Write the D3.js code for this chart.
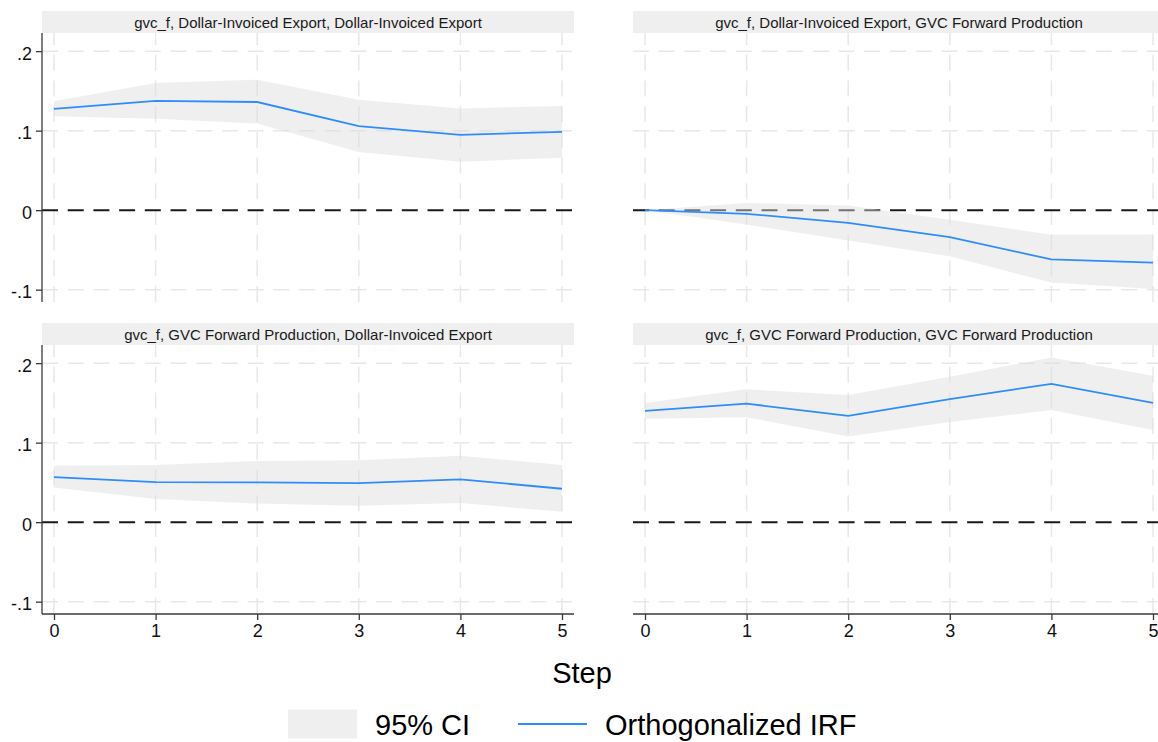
<!DOCTYPE html>
<html>
<head>
<meta charset="utf-8">
<script src="https://cdn.jsdelivr.net/npm/d3@7/dist/d3.min.js"></script>
<style>
  html, body { margin: 0; padding: 0; background: #fff; }
  svg { display: block; font-family: "Liberation Sans", Arial, Helvetica, sans-serif; }
</style>
</head>
<body>
<svg id="graph" width="1158" height="742"></svg>
<script>
// steps and y ticks
var steps = [0, 1, 2, 3, 4, 5];
var yTicks = [-0.1, 0, 0.1, 0.2];
var yTickLabels = ["-.1", "0", ".1", ".2"];

var panelTitles = [
  "gvc_f, Dollar-Invoiced Export, Dollar-Invoiced Export",
  "gvc_f, Dollar-Invoiced Export, GVC Forward Production",
  "gvc_f, GVC Forward Production, Dollar-Invoiced Export",
  "gvc_f, GVC Forward Production, GVC Forward Production"
];

// orthogonalized IRF and 95% CI
var irfDeDe = [0.1275, 0.1375, 0.136, 0.1057, 0.0948, 0.0985];
var loDeDe  = [0.118, 0.115, 0.109, 0.073, 0.061, 0.066];
var hiDeDe  = [0.137, 0.160, 0.164, 0.139, 0.128, 0.131];

var irfDeGvc = [0, -0.0046, -0.016, -0.034, -0.062, -0.066];
var loDeGvc  = [0, -0.018, -0.038, -0.058, -0.091, -0.099];
var hiDeGvc  = [0, 0.009, 0.006, -0.012, -0.031, -0.0306];

var irfGvcDe = [0.0567, 0.0504, 0.050, 0.049, 0.0538, 0.042];
var loGvcDe  = [0.0437, 0.029, 0.0235, 0.0206, 0.024, 0.013];
var hiGvcDe  = [0.071, 0.072, 0.077, 0.078, 0.0836, 0.072];

var irfGvcGvc = [0.140, 0.149, 0.1336, 0.1546, 0.174, 0.150];
var loGvcGvc  = [0.130, 0.132, 0.1076, 0.126, 0.141, 0.116];
var hiGvcGvc  = [0.150, 0.167, 0.160, 0.183, 0.207, 0.184];

var legendLabels = ["95% CI", "Orthogonalized IRF"];

var panels = [
  {title: panelTitles[0], irf: irfDeDe,   lo: loDeDe,   hi: hiDeDe,   col: 0, row: 0},
  {title: panelTitles[1], irf: irfDeGvc,  lo: loDeGvc,  hi: hiDeGvc,  col: 1, row: 0},
  {title: panelTitles[2], irf: irfGvcDe,  lo: loGvcDe,  hi: hiGvcDe,  col: 0, row: 1},
  {title: panelTitles[3], irf: irfGvcGvc, lo: loGvcGvc, hi: hiGvcGvc, col: 1, row: 1}
];

var svg = d3.select('#graph');

var colX = [42, 633],
    rowY = [33, 345],
    pw = 532,
    ph = 269,
    stripH = 22;

var blue = "#2f8cff",
    axisColor = "#3a3a3a",
    gridColor = "#e8e8e8";

var y = d3.scaleLinear()
    .domain([-0.1155, 0.2228])
    .range([ph, 0]);

panels.forEach(function(p) {
  var px = colX[p.col], py = rowY[p.row];
  var g = svg.append("g").attr("transform", "translate(" + px + "," + py + ")");

  var x = d3.scaleLinear().domain([0, 5]).range([12, 520]);

  // title strip
  g.append("rect")
    .attr("x", 0).attr("y", -stripH)
    .attr("width", pw).attr("height", stripH)
    .attr("fill", "#efefef");
  g.append("text")
    .attr("x", pw / 2).attr("y", -5.5)
    .attr("text-anchor", "middle")
    .attr("font-size", "15px")
    .attr("fill", "#1a1a1a")
    .text(p.title);

  // grid
  g.selectAll(".hgrid")
    .data(yTicks.filter(function(d) { return d != 0; }))
    .enter().append("line")
    .attr("x1", 0).attr("x2", pw)
    .attr("y1", function(d) { return y(d); })
    .attr("y2", function(d) { return y(d); })
    .attr("stroke", gridColor).attr("stroke-width", 1.5)
    .attr("stroke-dasharray", "16,9.7");

  g.selectAll(".vgrid")
    .data(steps)
    .enter().append("line")
    .attr("x1", function(d) { return x(d); })
    .attr("x2", function(d) { return x(d); })
    .attr("y1", ph).attr("y2", 0)
    .attr("stroke", gridColor).attr("stroke-width", 1.5)
    .attr("stroke-dasharray", "16,9.7");

  // zero line
  g.append("line")
    .attr("x1", 0).attr("x2", pw)
    .attr("y1", y(0)).attr("y2", y(0))
    .attr("stroke", "#1a1a1a").attr("stroke-width", 2)
    .attr("stroke-dasharray", "16,9.7");

  // CI band
  var area = d3.area()
    .x(function(d, i) { return x(steps[i]); })
    .y0(function(d, i) { return y(p.lo[i]); })
    .y1(function(d, i) { return y(p.hi[i]); });

  g.append("path")
    .datum(p.irf)
    .attr("d", area)
    .attr("fill", "#dcdcdc")
    .attr("fill-opacity", 0.46);

  // IRF line
  var line = d3.line()
    .x(function(d, i) { return x(steps[i]); })
    .y(function(d) { return y(d); });

  g.append("path")
    .datum(p.irf)
    .attr("d", line)
    .attr("fill", "none")
    .attr("stroke", blue)
    .attr("stroke-width", 1.8);

  // y axis only on the left column
  if (p.col == 0) {
    var ya = g.append("g")
      .call(d3.axisLeft(y).tickValues(yTicks).tickSize(6).tickPadding(4)
        .tickFormat(function(d, i) { return yTickLabels[i]; }));
    ya.select(".domain").attr("d", "M0,0V" + ph).attr("stroke", axisColor).attr("stroke-width", 1.3);
    ya.selectAll(".tick line").attr("stroke", axisColor).attr("stroke-width", 1.3);
    ya.selectAll(".tick text")
      .attr("font-size", "18px")
      .attr("font-family", "Liberation Sans, Arial, sans-serif")
      .attr("fill", "#111")
      .attr("dy", "0.45em");
  }

  // x axis only on the bottom row
  if (p.row == 1) {
    var xa = g.append("g")
      .attr("transform", "translate(0," + ph + ")")
      .call(d3.axisBottom(x).tickValues(steps).tickSize(6).tickPadding(4).tickFormat(d3.format("d")));
    xa.select(".domain").attr("d", "M0,0H" + pw).attr("stroke", axisColor).attr("stroke-width", 1.3);
    xa.selectAll(".tick line").attr("stroke", axisColor).attr("stroke-width", 1.3);
    xa.selectAll(".tick text")
      .attr("font-size", "18px")
      .attr("font-family", "Liberation Sans, Arial, sans-serif")
      .attr("fill", "#111");
  }
});

// x axis title
svg.append("text")
  .attr("x", 582).attr("y", 683)
  .attr("text-anchor", "middle")
  .attr("font-size", "29px")
  .attr("fill", "#000")
  .text("Step");

// legend (kept just inside the bottom edge)
var legend = svg.append("g").attr("transform", "translate(0,724)");
legend.append("rect")
  .attr("x", 288).attr("y", -14.5)
  .attr("width", 69).attr("height", 29)
  .attr("fill", "#dcdcdc").attr("fill-opacity", 0.46);
legend.append("text")
  .attr("x", 375).attr("y", 11)
  .attr("font-size", "29px").attr("fill", "#000")
  .text(legendLabels[0]);
legend.append("line")
  .attr("x1", 518).attr("x2", 587)
  .attr("y1", 0).attr("y2", 0)
  .attr("stroke", blue).attr("stroke-width", 1.8);
legend.append("text")
  .attr("x", 605).attr("y", 11)
  .attr("font-size", "29px").attr("fill", "#000")
  .text(legendLabels[1]);
</script>
</body>
</html>
